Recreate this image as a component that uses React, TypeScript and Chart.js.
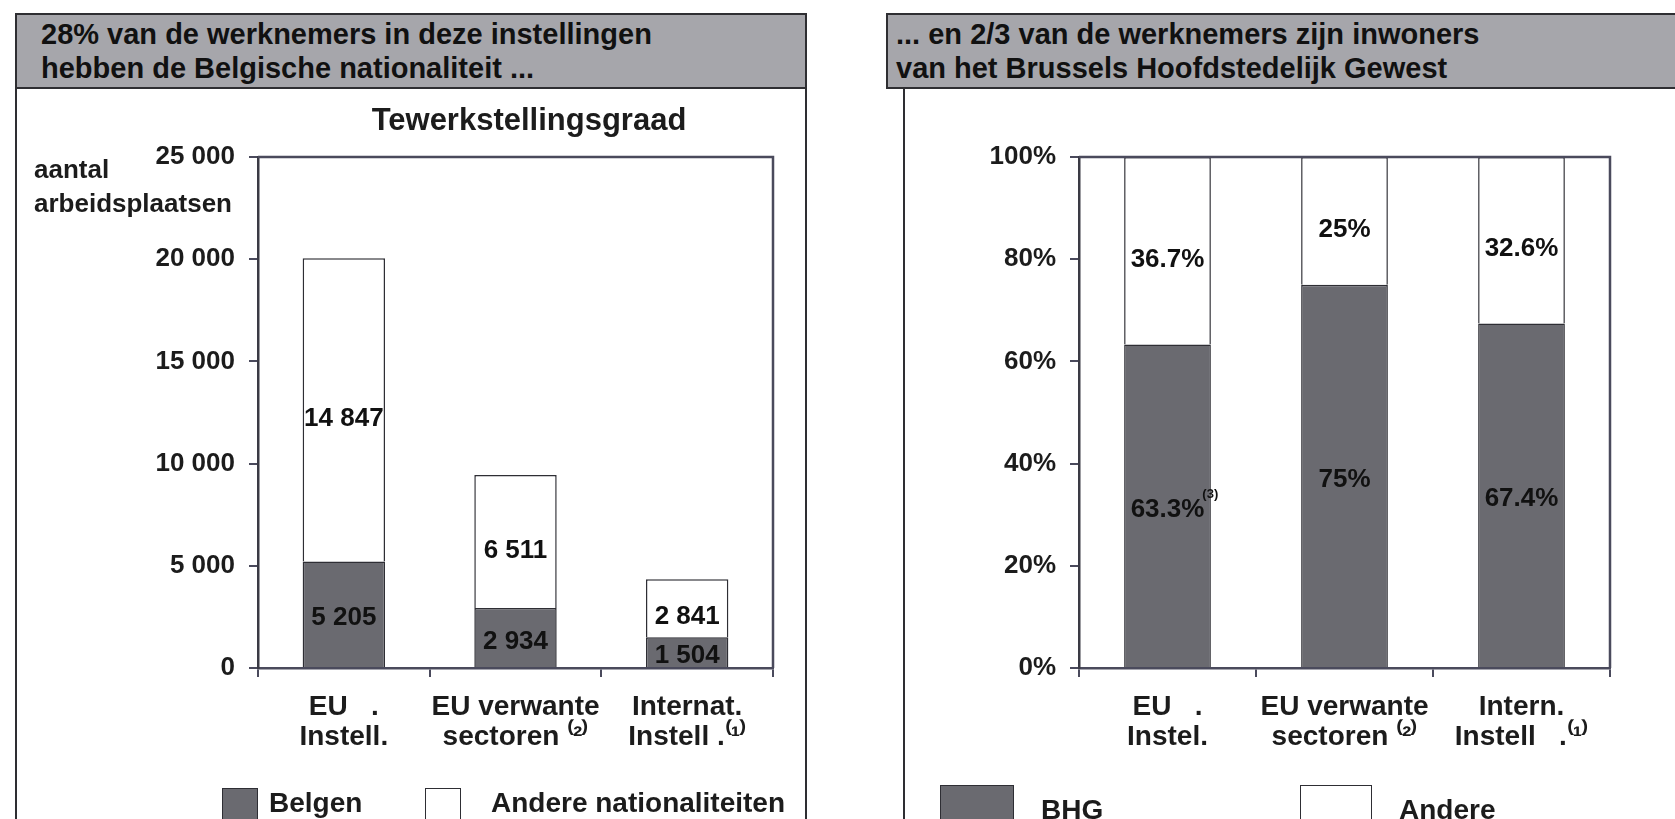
import React, { useEffect, useRef } from "react";
import { Chart, registerables } from "chart.js";

Chart.register(...registerables);

// ---------- data ----------
const leftCategories: string[][] = [
  ["EU   .", "Instell."],
  ["EU verwante", "sectoren ⁽²⁾"],
  ["Internat.", "Instell .⁽¹⁾"],
];
const belgen: number[] = [5205, 2934, 1504];
const andereNationaliteiten: number[] = [14847, 6511, 2841];
const leftTickMax = 25000;
const leftTickStep = 5000;

const rightCategories: string[][] = [
  ["EU   .", "Instel."],
  ["EU verwante", "sectoren ⁽²⁾"],
  ["Intern.", "Instell   .⁽¹⁾"],
];
const bhg: number[] = [63.3, 75, 67.4];
const andere: number[] = [36.7, 25, 32.6];
const bhgNotes: string[] = ["(3)", "", ""];
const rightTickMax = 100;
const rightTickStep = 20;

// ---------- styles ----------
const FONT = '"Liberation Sans", Arial, Helvetica, sans-serif';
const DARK = "#6a6a70";
const EDGE = "#2e2e34";
const AXIS = "#4a4a5c";
const TEXT = "#1c1c1c";

const spaceThousands = (v: number) =>
  String(v).replace(/\B(?=(\d{3})+(?!\d))/g, " ");

const framePlugin = {
  id: "frame",
  afterDatasetsDraw(chart: any) {
    const { ctx, chartArea } = chart;
    ctx.save();
    ctx.strokeStyle = AXIS;
    ctx.lineWidth = 2.5;
    ctx.beginPath();
    ctx.moveTo(chartArea.left, chartArea.top);
    ctx.lineTo(chartArea.right, chartArea.top);
    ctx.lineTo(chartArea.right, chartArea.bottom);
    ctx.stroke();
    ctx.restore();
  },
};

const valueLabelsPlugin = {
  id: "valueLabels",
  afterDatasetsDraw(chart: any, _args: any, opts: any) {
    const ctx = chart.ctx;
    chart.data.datasets.forEach((ds: any, di: number) => {
      const meta = chart.getDatasetMeta(di);
      meta.data.forEach((el: any, i: number) => {
        const p = el.getProps(["x", "y", "base"], true);
        const cy = (p.y + p.base) / 2 + ((opts.dy && opts.dy[di]) || 0);
        const text = opts.format(ds.data[i]);
        ctx.save();
        ctx.font = `bold ${opts.size}px ${FONT}`;
        ctx.fillStyle = "#111";
        ctx.textAlign = "center";
        ctx.textBaseline = "middle";
        ctx.fillText(text, p.x, cy);
        const notes = opts.notes && opts.notes[di];
        if (notes && notes[i]) {
          const w = ctx.measureText(text).width;
          ctx.font = `bold 13px ${FONT}`;
          ctx.textAlign = "left";
          ctx.fillText(notes[i], p.x + w / 2 - 2, cy - 15);
        }
        ctx.restore();
      });
    });
  },
};

function makeConfig(opts: {
  labels: string[][];
  dark: number[];
  light: number[];
  darkName: string;
  lightName: string;
  max: number;
  step: number;
  tickFormat: (v: number) => string;
  valueFormat: (v: number) => string;
  yWidth: number;
  padRight: number;
  barPct: number;
  notes?: (string[] | null)[];
}) {
  return {
    type: "bar" as const,
    data: {
      labels: opts.labels,
      datasets: [
        {
          label: opts.darkName,
          data: opts.dark,
          backgroundColor: DARK,
          borderColor: EDGE,
          borderWidth: 1.5,
          barPercentage: opts.barPct,
          categoryPercentage: 1,
        },
        {
          label: opts.lightName,
          data: opts.light,
          backgroundColor: "#ffffff",
          borderColor: EDGE,
          borderWidth: 1.5,
          barPercentage: opts.barPct,
          categoryPercentage: 1,
        },
      ],
    },
    options: {
      animation: false,
      responsive: true,
      maintainAspectRatio: false,
      layout: { padding: { top: 64, right: opts.padRight, left: 0, bottom: 0 } },
      plugins: {
        legend: { display: false },
        tooltip: { enabled: false },
        title: { display: false },
        valueLabels: {
          format: opts.valueFormat,
          size: 26,
          notes: opts.notes,
          dy: [4, 9],
        },
      },
      scales: {
        x: {
          stacked: true,
          offset: true,
          afterFit: (s: any) => {
            s.height = 125;
          },
          grid: {
            display: true,
            offset: true,
            drawOnChartArea: false,
            drawTicks: true,
            tickLength: 9,
            color: AXIS,
            lineWidth: 2,
          },
          border: { display: true, color: AXIS, width: 2.5 },
          ticks: {
            color: TEXT,
            padding: 15,
            maxRotation: 0,
            autoSkip: false,
            font: { family: FONT, size: 28, weight: "bold", lineHeight: 1.07 },
          },
        },
        y: {
          stacked: true,
          min: 0,
          max: opts.max,
          afterFit: (s: any) => {
            s.width = opts.yWidth;
          },
          grid: {
            display: true,
            drawOnChartArea: false,
            drawTicks: true,
            tickLength: 9,
            color: AXIS,
            lineWidth: 2,
          },
          border: { display: true, color: "#3a3a44", width: 2.5 },
          ticks: {
            stepSize: opts.step,
            color: TEXT,
            padding: 14,
            font: { family: FONT, size: 26, weight: "bold" },
            callback: (v: any) => opts.tickFormat(Number(v)),
          },
        },
      },
    },
    plugins: [framePlugin, valueLabelsPlugin],
  };
}

function ChartBox({ config, style }: { config: any; style: React.CSSProperties }) {
  const ref = useRef<HTMLCanvasElement | null>(null);
  useEffect(() => {
    if (!ref.current) return;
    const chart = new Chart(ref.current, config);
    return () => chart.destroy();
  }, [config]);
  return (
    <div style={{ position: "absolute", ...style }}>
      <canvas ref={ref} />
    </div>
  );
}

const leftConfig = makeConfig({
  labels: leftCategories,
  dark: belgen,
  light: andereNationaliteiten,
  darkName: "Belgen",
  lightName: "Andere nationaliteiten",
  max: leftTickMax,
  step: leftTickStep,
  tickFormat: spaceThousands,
  valueFormat: spaceThousands,
  yWidth: 241,
  padRight: 32,
  barPct: 0.48,
});

const rightConfig = makeConfig({
  labels: rightCategories,
  dark: bhg,
  light: andere,
  darkName: "BHG",
  lightName: "Andere",
  max: rightTickMax,
  step: rightTickStep,
  tickFormat: (v) => `${v}%`,
  valueFormat: (v) => `${v}%`,
  yWidth: 174,
  padRight: 65,
  barPct: 0.49,
  notes: [bhgNotes, null],
});

const headerStyle: React.CSSProperties = {
  position: "absolute",
  top: 13,
  height: 76,
  background: "#a6a6ab",
  border: "2px solid #2e2e32",
  color: "#111",
  fontWeight: "bold",
  fontSize: 29,
  lineHeight: "34px",
  boxSizing: "border-box",
  paddingTop: 2,
  whiteSpace: "nowrap",
};

const legendText: React.CSSProperties = {
  position: "absolute",
  fontWeight: "bold",
  fontSize: 28,
  color: TEXT,
  lineHeight: "32px",
  whiteSpace: "nowrap",
};

export default function App() {
  return (
    <div
      style={{
        position: "absolute",
        left: 0,
        top: 0,
        width: 1675,
        height: 819,
        overflow: "hidden",
        background: "#ffffff",
        fontFamily: FONT,
      }}
    >
      {/* left panel borders */}
      <div style={{ position: "absolute", left: 15, top: 89, width: 2, height: 760, background: "#2e2e32" }} />
      <div style={{ position: "absolute", left: 805, top: 89, width: 2, height: 760, background: "#2e2e32" }} />
      <div style={{ ...headerStyle, left: 15, width: 792, paddingLeft: 24 }}>
        28% van de werknemers in deze instellingen
        <br />
        hebben de Belgische nationaliteit ...
      </div>

      {/* right panel borders */}
      <div style={{ position: "absolute", left: 903, top: 89, width: 2, height: 760, background: "#2e2e32" }} />
      <div style={{ ...headerStyle, left: 886, width: 820, paddingLeft: 8 }}>
        ... en 2/3 van de werknemers zijn inwoners
        <br />
        van het Brussels Hoofdstedelijk Gewest
      </div>

      <ChartBox config={leftConfig} style={{ left: 17, top: 93, width: 788, height: 700 }} />
      <ChartBox config={rightConfig} style={{ left: 905, top: 93, width: 770, height: 700 }} />

      {/* left chart title */}
      <div
        style={{
          ...legendText,
          left: 329,
          width: 400,
          top: 101,
          fontSize: 31,
          lineHeight: "38px",
          textAlign: "center",
        }}
      >
        Tewerkstellingsgraad
      </div>

      {/* axis caption */}
      <div style={{ ...legendText, left: 34, top: 152, fontSize: 26, lineHeight: "34px" }}>
        aantal
        <br />
        arbeidsplaatsen
      </div>

      {/* left legend */}
      <div style={{ position: "absolute", left: 222, top: 788, width: 34, height: 40, background: DARK, border: `1.5px solid ${EDGE}` }} />
      <div style={{ ...legendText, left: 269, top: 787 }}>Belgen</div>
      <div style={{ position: "absolute", left: 425, top: 788, width: 34, height: 40, background: "#fff", border: `1.5px solid ${EDGE}` }} />
      <div style={{ ...legendText, left: 491, top: 787 }}>Andere nationaliteiten</div>

      {/* right legend */}
      <div style={{ position: "absolute", left: 940, top: 785, width: 72, height: 44, background: DARK, border: `1.5px solid ${EDGE}` }} />
      <div style={{ ...legendText, left: 1041, top: 794 }}>BHG</div>
      <div style={{ position: "absolute", left: 1300, top: 785, width: 70, height: 44, background: "#fff", border: `1.5px solid ${EDGE}` }} />
      <div style={{ ...legendText, left: 1399, top: 794 }}>Andere</div>
    </div>
  );
}
